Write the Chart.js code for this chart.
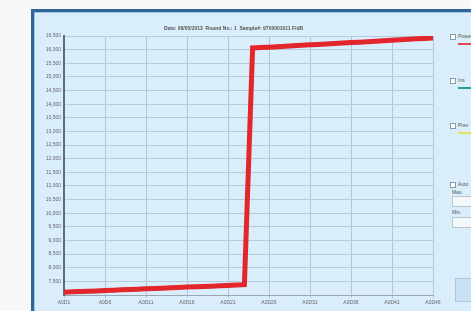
<!DOCTYPE html>
<html>
<head>
<meta charset="utf-8">
<script src="https://cdn.jsdelivr.net/npm/chart.js@4"></script>
<style>
  body { margin: 0; background: #f7f8f9; width: 471px; height: 311px; overflow: hidden; position: relative; font-family: "Liberation Sans", Arial, sans-serif; }
  #frame { position: absolute; left: 31px; top: 9px; width: 460px; height: 320px; background: #daedfa; border-left: 3px solid #2f6598; border-top: 3px solid #2f6598; box-shadow: inset 1px 1px 0 #9cc4e4; }
  #chart-wrap { position: absolute; left: 34px; top: 12px; width: 415px; height: 297px; }
  .side { position: absolute; left: 450px; font-size: 5px; color: #555; white-space: nowrap; }
  .chk { display: inline-block; width: 4px; height: 4px; border: 1px solid #8a9aa8; background: #fff; vertical-align: middle; margin-right: 2px; }
  .swatch { position: absolute; left: 458px; height: 2px; width: 20px; }
  .box { position: absolute; left: 452px; width: 30px; height: 9px; background: #f4f8fb; border: 1px solid #b6c6d4; }
  #btn { position: absolute; left: 455px; top: 278px; width: 30px; height: 22px; background: #c9e2f6; border: 1px solid #a9c7e0; }
</style>
</head>
<body>
<div id="frame"></div>
<div id="chart-wrap"><canvas id="chart-power"></canvas></div>

<div class="side" style="top:33px"><span class="chk"></span>Power</div>
<div class="swatch" style="top:43px;background:#e2474b"></div>
<div class="side" style="top:77px"><span class="chk"></span>Ins</div>
<div class="swatch" style="top:87px;background:#1fa580"></div>
<div class="side" style="top:122px"><span class="chk"></span>Prev</div>
<div class="swatch" style="top:132px;background:#e6df5a"></div>
<div class="side" style="top:181px"><span class="chk"></span>Auto</div>
<div class="side" style="top:189px;left:452px">Max.</div>
<div class="box" style="top:196px"></div>
<div class="side" style="top:209px;left:452px">Min.</div>
<div class="box" style="top:217px"></div>
<div id="btn"></div>

<script>
const titleText = "Date: 08/05/2013  Round No.: 1  Sample#: 9700001011 F/dB";

const sampleLabels = [
  "A0D1", "A0D2", "A0D3", "A0D4", "A0D5", "A0D6", "A0D7", "A0D8", "A0D9", "A0D10",
  "A0D11", "A0D12", "A0D13", "A0D14", "A0D15", "A0D16", "A0D17", "A0D18", "A0D19", "A0D20",
  "A0D21", "A0D22", "A0D23", "A0D24", "A0D25", "A0D26", "A0D27", "A0D28", "A0D29", "A0D30",
  "A0D31", "A0D32", "A0D33", "A0D34", "A0D35", "A0D36", "A0D37", "A0D38", "A0D39", "A0D40",
  "A0D41", "A0D42", "A0D43", "A0D44", "A0D45", "A0D46",
];

const powerValues = [
  7100, 7115, 7125, 7140, 7150, 7165, 7175, 7190, 7200, 7215,
  7225, 7240, 7250, 7265, 7275, 7290, 7300, 7315, 7325, 7340,
  7350, 7365, 7380, 16060, 16075, 16090, 16110, 16125, 16140, 16160,
  16175, 16190, 16210, 16225, 16240, 16260, 16275, 16290, 16310, 16325,
  16345, 16360, 16380, 16395, 16410, 16430,
];

const yMin = 7000, yMax = 16500, yStep = 500;

const ctx = document.getElementById("chart-power");
const chart = new Chart(ctx, {
  type: "line",
  data: {
    labels: sampleLabels,
    datasets: [
      {
        label: "Power",
        data: powerValues,
        borderColor: "#e3262b",
        borderWidth: 5,
        pointRadius: 0,
        tension: 0,
        borderJoinStyle: "miter",
      },
    ],
  },
  options: {
    responsive: true,
    maintainAspectRatio: false,
    animation: false,
    layout: { padding: { left: 0, right: 16, top: 0, bottom: 0 } },
    plugins: {
      legend: { display: false },
      tooltip: { enabled: false },
      title: {
        display: true,
        text: titleText,
        color: "#555",
        font: { size: 5, family: "Liberation Sans" },
        padding: { top: 14, bottom: 4 },
      },
    },
    scales: {
      x: {
        afterFit: (scale) => { scale.height = 14; },
        border: { color: "#9aa7b2", width: 1 },
        grid: {
          color: (c) => (c.index % 5 === 0 ? "#b0c6d8" : "rgba(0,0,0,0)"),
          tickLength: 3,
        },
        ticks: {
          autoSkip: false,
          maxRotation: 0,
          color: "#666",
          font: { size: 5, family: "Liberation Sans" },
          padding: 2,
          callback: function (v, i) {
            return i % 5 === 0 ? this.getLabelForValue(v) : "";
          },
        },
      },
      y: {
        min: yMin,
        max: yMax,
        afterFit: (scale) => { scale.width = 30; },
        border: { color: "#5f6b75", width: 2 },
        grid: { color: "#b8cbdb", tickLength: 0 },
        ticks: {
          stepSize: yStep,
          color: "#666",
          font: { size: 5, family: "Liberation Sans" },
          padding: 3,
          callback: (v) => (v === yMin ? "" : v.toLocaleString("en-US")),
        },
      },
    },
  },
});
</script>
</body>
</html>
